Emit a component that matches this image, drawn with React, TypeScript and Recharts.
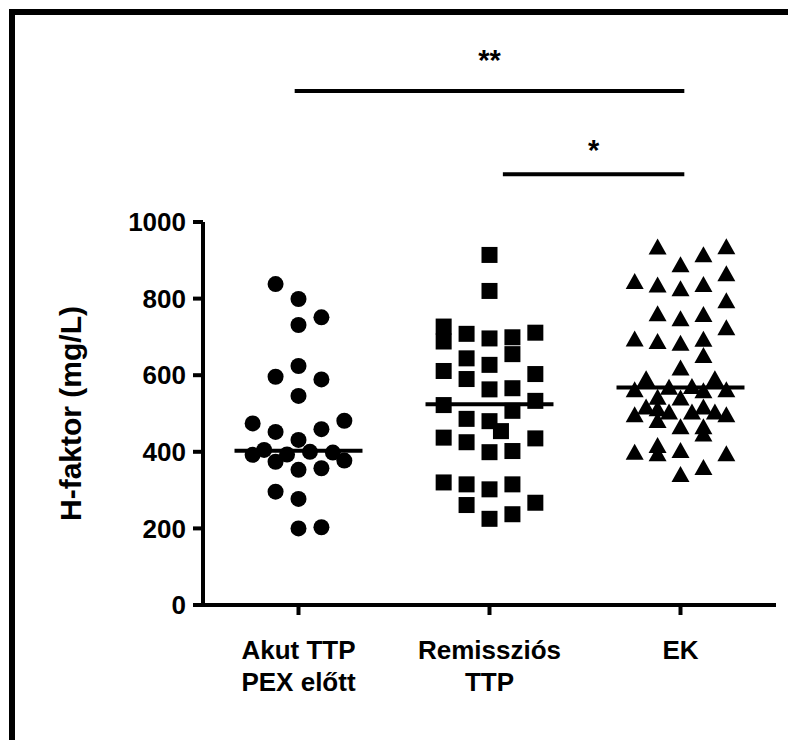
import React from "react";
import {
  ScatterChart,
  Scatter,
  XAxis,
  YAxis,
  ReferenceLine,
} from "recharts";

const categories = [
  ["Akut TTP", "PEX előtt"],
  ["Remissziós", "TTP"],
  ["EK"],
];

// H-faktor (mg/L), one value per patient, with its beeswarm column
const akutValues = [
  838, 799, 751, 731, 624, 596, 589, 546, 474, 481, 452, 459, 431, 405, 392,
  393, 400, 398, 374, 377, 353, 357, 296, 277, 200, 203,
];
const akutJitter = [
  -2, 0, 2, 0, 0, -2, 2, 0, -4, 4, -2, 2, 0, -3, -4, -1, 1, 3, -2, 4, 0, 2, -2,
  0, 0, 2,
];

const remValues = [
  914, 820, 727, 688, 708, 696, 699, 711, 644, 655, 627, 611, 603, 590, 563,
  566, 533, 522, 507, 486, 480, 454, 437, 435, 425, 399, 402, 320, 315, 315,
  302, 267, 261, 237, 225,
];
const remJitter = [
  0, 0, -4, -4, -2, 0, 2, 4, -2, 2, 0, -4, 4, -2, 0, 2, 4, -4, 2, -2, 0, 1, -4,
  4, -2, 0, 2, -4, -2, 2, 0, 4, -2, 2, 0,
];

const ekValues = [
  936, 937, 916, 890, 866, 846, 837, 827, 838, 796, 762, 749, 760, 725, 696,
  689, 685, 695, 653, 620, 592, 592, 563, 570, 572, 561, 563, 544, 542, 518,
  514, 518, 505, 505, 505, 498, 498, 483, 467, 467, 448, 400, 418, 396, 405,
  396, 360, 342,
];
const ekJitter = [
  -2, 4, 2, 0, 4, -4, -2, 0, 2, 4, -2, 0, 2, 4, -4, -2, 0, 2, 2, 0, -3, 3, -4,
  -1, 1, 2, 4, -2, 0, -3, -2, 2, -1, 1, 3, -4, 4, -2, 0, 2, 2, -4, -2, -2, 0,
  4, 2, 0,
];

const medians = [403, 524, 568];
const yTicks = [0, 200, 400, 600, 800, 1000];

// significance brackets: [from group, to group, height, label]
const brackets: [number, number, number, string][] = [
  [0.98, 3.02, 1342, "**"],
  [2.07, 3.02, 1125, "*"],
];

const SLOT = 0.06;
const MEDIAN_HALF = 0.335;
const FONT = "'Liberation Sans', Arial, sans-serif";

const toPoints = (group: number, values: number[], jitter: number[]) =>
  values.map((v, i) => ({ x: group + jitter[i] * SLOT, y: v }));

const akutData = toPoints(1, akutValues, akutJitter);
const remData = toPoints(2, remValues, remJitter);
const ekData = toPoints(3, ekValues, ekJitter);

const Dot = (props: any) => <circle cx={props.cx} cy={props.cy} r={8} fill="#000" />;
const Square = (props: any) => (
  <rect x={props.cx - 8} y={props.cy - 8} width={16} height={16} fill="#000" />
);
const Tri = (props: any) => {
  const { cx, cy } = props;
  return (
    <polygon
      points={`${cx - 9},${cy + 8} ${cx + 9},${cy + 8} ${cx},${cy - 8}`}
      fill="#000"
    />
  );
};

const CatTick = (props: any) => {
  const { x, y, payload } = props;
  const lines = categories[Math.round(payload.value) - 1] || [];
  return (
    <text
      x={x}
      y={y}
      textAnchor="middle"
      fontFamily={FONT}
      fontWeight="bold"
      fontSize={26}
      fill="#000"
    >
      {lines.map((l, i) => (
        <tspan key={l} x={x} dy={i === 0 ? 44 : 32}>
          {l}
        </tspan>
      ))}
    </text>
  );
};

export default function App() {
  return (
    <div style={{ position: "absolute", left: 0, top: 0, width: 788, height: 740, background: "#fff" }}>
      <div
        style={{
          position: "absolute",
          left: 9,
          top: 9,
          width: 779,
          height: 731,
          borderLeft: "6px solid #000",
          borderTop: "6px solid #000",
          boxSizing: "border-box",
        }}
      />
      <div style={{ position: "absolute", left: 0, top: 0 }}>
        <ScatterChart
          width={788}
          height={740}
          margin={{ top: 222, right: 12, bottom: 0, left: 0 }}
        >
          <XAxis
            type="number"
            dataKey="x"
            domain={[0.5, 3.5]}
            ticks={[1, 2, 3]}
            height={135}
            tickSize={10}
            tickMargin={0}
            axisLine={{ stroke: "#000", strokeWidth: 4 }}
            tickLine={{ stroke: "#000", strokeWidth: 4 }}
            tick={<CatTick />}
            interval={0}
          />
          <YAxis
            type="number"
            dataKey="y"
            domain={[0, 1000]}
            ticks={yTicks}
            width={203}
            tickSize={10}
            tickMargin={7}
            axisLine={{ stroke: "#000", strokeWidth: 4 }}
            tickLine={{ stroke: "#000", strokeWidth: 4 }}
            tick={{ fill: "#000", fontSize: 26, fontWeight: "bold", fontFamily: FONT }}
            label={{
              value: "H-faktor (mg/L)",
              angle: -90,
              position: "insideLeft",
              offset: 70,
              style: { textAnchor: "middle", fill: "#000", fontSize: 30, fontWeight: "bold", fontFamily: FONT },
            }}
          />
          <Scatter data={akutData} shape={Dot} isAnimationActive={false} />
          <Scatter data={remData} shape={Square} isAnimationActive={false} />
          <Scatter data={ekData} shape={Tri} isAnimationActive={false} />
          {medians.map((m, i) => (
            <ReferenceLine
              key={"m" + i}
              segment={[
                { x: i + 1 - MEDIAN_HALF, y: m },
                { x: i + 1 + MEDIAN_HALF, y: m },
              ]}
              stroke="#000"
              strokeWidth={4}
              ifOverflow="visible"
            />
          ))}
          {brackets.map(([a, b, h, s], i) => (
            <ReferenceLine
              key={"b" + i}
              segment={[
                { x: a, y: h },
                { x: b, y: h },
              ]}
              stroke="#000"
              strokeWidth={4}
              ifOverflow="visible"
              label={{
                value: s,
                position: "top",
                offset: i === 0 ? 21 : 14,
                fill: "#000",
                fontSize: 29,
                fontWeight: "bold",
                fontFamily: FONT,
              }}
            />
          ))}
        </ScatterChart>
      </div>
    </div>
  );
}
